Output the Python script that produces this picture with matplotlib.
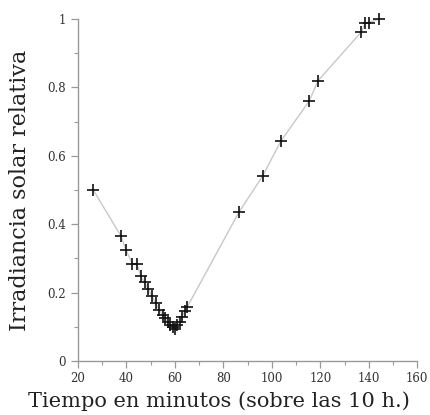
import matplotlib
matplotlib.use("Agg")
import matplotlib.pyplot as plt
from matplotlib.ticker import MultipleLocator, FuncFormatter

tiempo = [26.3, 37.7, 39.8, 42.4, 44.2, 46.0, 47.5, 49.0, 50.5, 52.0, 53.5,
          55.0, 56.0, 57.0, 58.0, 59.0, 60.0, 61.0, 62.0, 63.0, 64.0, 65.0,
          86.4, 96.2, 103.7, 115.4, 119.1, 137.0, 138.5, 140.0, 144.3]
irradiancia = [0.50, 0.366, 0.325, 0.285, 0.285, 0.248, 0.230, 0.210, 0.19,
               0.17, 0.15, 0.135, 0.125, 0.115, 0.105, 0.10, 0.095, 0.105,
               0.115, 0.13, 0.145, 0.157, 0.435, 0.541, 0.643, 0.760, 0.820,
               0.963, 0.99, 0.99, 1.0]

x_ticks = [20, 40, 60, 80, 100, 120, 140, 160]
y_ticks = [0, 0.2, 0.4, 0.6, 0.8, 1]

plt.rcParams['font.family'] = ['DejaVu Serif']

fig = plt.figure(figsize=(4.31, 4.15), dpi=100)
ax = fig.add_axes([0.181, 0.130, 0.787, 0.824])

ax.plot(tiempo, irradiancia, color='#c8c8c8', linewidth=1.0, zorder=1)
ax.plot(tiempo, irradiancia, linestyle='none', marker='+', markersize=8.5,
        markeredgewidth=1.2, color='#111111', clip_on=False, zorder=2)

ax.set_xlim(20, 160)
ax.set_ylim(0, 1)
ax.set_xticks(x_ticks)
ax.set_yticks(y_ticks)
ax.xaxis.set_minor_locator(MultipleLocator(10))
ax.yaxis.set_minor_locator(MultipleLocator(0.1))
ax.yaxis.set_major_formatter(FuncFormatter(lambda v, p: '%g' % v))

for s in ['top', 'right']:
    ax.spines[s].set_visible(False)
for s in ['left', 'bottom']:
    ax.spines[s].set_color('#999999')
    ax.spines[s].set_linewidth(1.0)

ax.tick_params(axis='both', which='major', direction='out', length=5,
               width=0.9, color='#999999', labelsize=8.5, labelcolor='#333333')
ax.tick_params(axis='both', which='minor', direction='out', length=3,
               width=0.8, color='#999999')
ax.tick_params(axis='x', which='major', pad=3)

ax.set_xlabel('Tiempo en minutos (sobre las 10 h.)', fontsize=15,
              color='#222222')
ax.xaxis.set_label_coords(0.415, -0.090)
ax.set_ylabel('Irradiancia solar relativa', fontsize=16,
              color='#222222')
ax.yaxis.set_label_coords(-0.14, 0.5)

fig.savefig('out.png', dpi=100)
